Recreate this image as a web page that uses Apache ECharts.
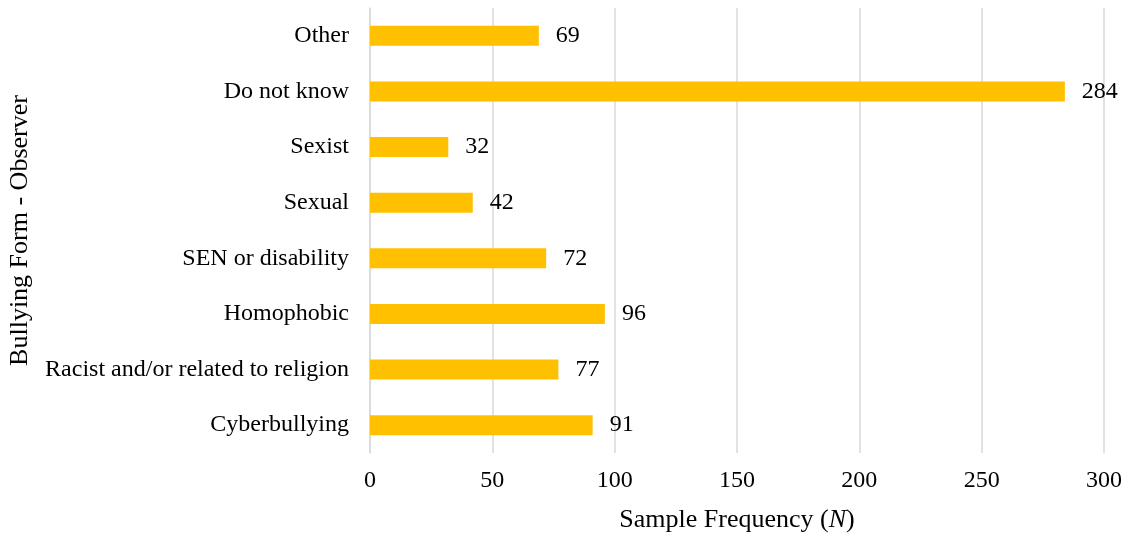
<!DOCTYPE html>
<html>
<head>
<meta charset="utf-8">
<script src="https://cdn.jsdelivr.net/npm/echarts@6/dist/echarts.min.js"></script>
<style>
  html, body { margin: 0; padding: 0; background: #fff; }
  #chart { width: 1127px; height: 535px; }
</style>
</head>
<body>
<div id="chart"></div>
<script>
// Bullying forms reported by observers, listed bottom to top
const categories = [
  'Cyberbullying',
  'Racist and/or related to religion',
  'Homophobic',
  'SEN or disability',
  'Sexual',
  'Sexist',
  'Do not know',
  'Other'
];
const frequencies = [91, 77, 96, 72, 42, 32, 284, 69];
const xTicks = [0, 50, 100, 150, 200, 250, 300];

const serif = '"Liberation Serif", "Times New Roman", "DejaVu Serif", serif';
const chart = echarts.init(document.getElementById('chart'), null, { renderer: 'canvas' });

chart.setOption({
  animation: false,
  backgroundColor: '#ffffff',
  textStyle: { fontFamily: serif, color: '#000' },
  grid: { left: 370, right: 23, top: 8, bottom: 82, containLabel: false, outerBoundsMode: 'none' },
  xAxis: {
    type: 'value',
    min: xTicks[0],
    max: xTicks[xTicks.length - 1],
    interval: 50,
    name: 'Sample Frequency ({i|N})',
    nameLocation: 'middle',
    nameGap: 54,
    nameTextStyle: {
      fontFamily: serif, fontSize: 26, color: '#000',
      rich: { i: { fontFamily: serif, fontSize: 26, fontStyle: 'italic', color: '#000' } }
    },
    axisLine: { show: false },
    axisTick: { show: false },
    axisLabel: { fontFamily: serif, fontSize: 24, color: '#000', margin: 16 },
    splitLine: { show: true, lineStyle: { color: '#d9d9d9', width: 1.5 } }
  },
  yAxis: {
    type: 'category',
    data: categories,
    name: 'Bullying Form - Observer',
    nameLocation: 'middle',
    nameRotate: 90,
    nameGap: 337,
    nameTextStyle: { fontFamily: serif, fontSize: 26, color: '#000' },
    axisLine: { show: true, lineStyle: { color: '#d9d9d9', width: 1.5 } },
    axisTick: { show: false },
    axisLabel: { fontFamily: serif, fontSize: 24, color: '#000', margin: 21 }
  },
  series: [{
    type: 'bar',
    data: frequencies,
    barWidth: 20,
    itemStyle: { color: '#FFC000' },
    label: {
      show: true,
      position: 'right',
      distance: 17,
      fontFamily: serif,
      fontSize: 24,
      color: '#000'
    }
  }]
});
</script>
</body>
</html>
